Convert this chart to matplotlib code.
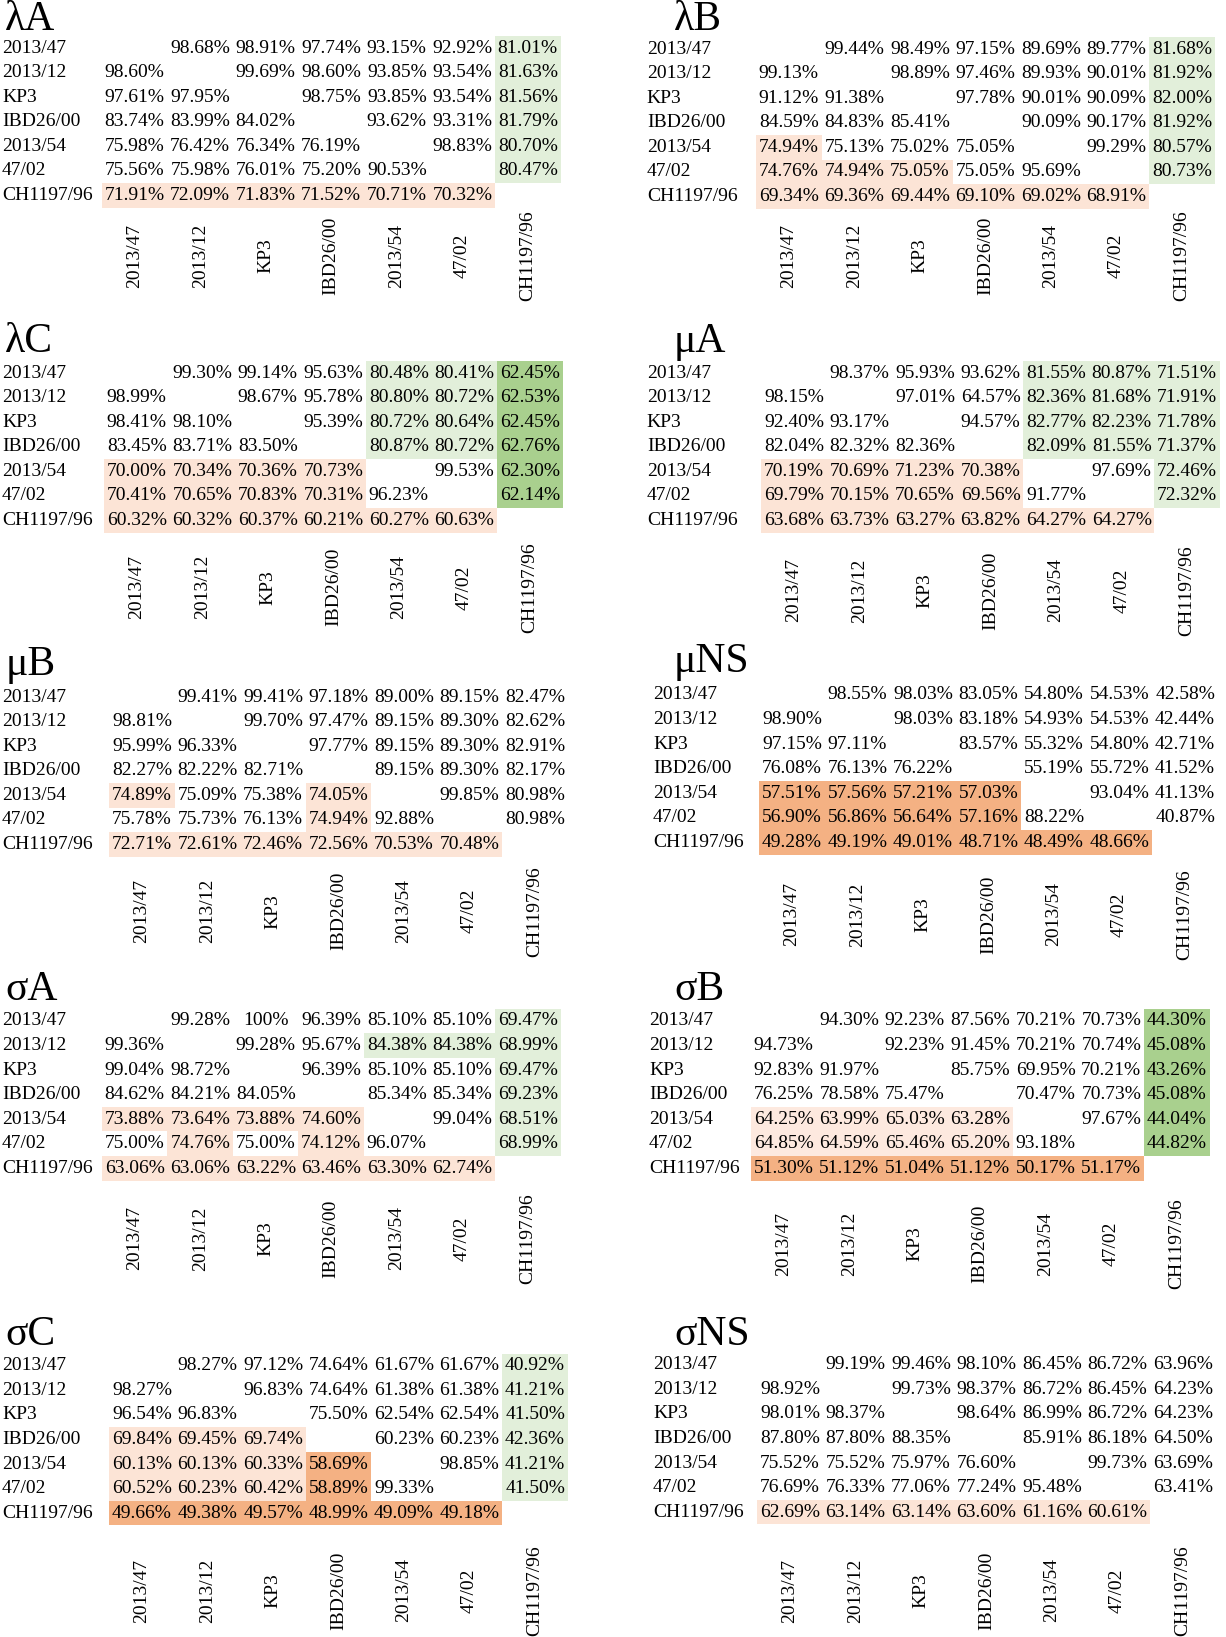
import numpy as np
import matplotlib
matplotlib.use("Agg")
import matplotlib.pyplot as plt
from matplotlib.patches import Rectangle
from matplotlib.transforms import blended_transform_factory

plt.rcParams['font.family'] = ['Liberation Serif', 'DejaVu Serif']

strains = ["2013/47", "2013/12", "KP3", "IBD26/00", "2013/54", "47/02", "CH1197/96"]
N = np.nan

lambdaA = [[N, 98.68, 98.91, 97.74, 93.15, 92.92, 81.01],
           [98.60, N, 99.69, 98.60, 93.85, 93.54, 81.63],
           [97.61, 97.95, N, 98.75, 93.85, 93.54, 81.56],
           [83.74, 83.99, 84.02, N, 93.62, 93.31, 81.79],
           [75.98, 76.42, 76.34, 76.19, N, 98.83, 80.70],
           [75.56, 75.98, 76.01, 75.20, 90.53, N, 80.47],
           [71.91, 72.09, 71.83, 71.52, 70.71, 70.32, N]]
lambdaA_hl = ["......G", "......G", "......G", "......G", "......G", "......G", "SSSSSS."]

lambdaB = [[N, 99.44, 98.49, 97.15, 89.69, 89.77, 81.68],
           [99.13, N, 98.89, 97.46, 89.93, 90.01, 81.92],
           [91.12, 91.38, N, 97.78, 90.01, 90.09, 82.00],
           [84.59, 84.83, 85.41, N, 90.09, 90.17, 81.92],
           [74.94, 75.13, 75.02, 75.05, N, 99.29, 80.57],
           [74.76, 74.94, 75.05, 75.05, 95.69, N, 80.73],
           [69.34, 69.36, 69.44, 69.10, 69.02, 68.91, N]]
lambdaB_hl = ["......G", "......G", "......G", "......G", "S.....G", "SSS...G", "SSSSSS."]

lambdaC = [[N, 99.30, 99.14, 95.63, 80.48, 80.41, 62.45],
           [98.99, N, 98.67, 95.78, 80.80, 80.72, 62.53],
           [98.41, 98.10, N, 95.39, 80.72, 80.64, 62.45],
           [83.45, 83.71, 83.50, N, 80.87, 80.72, 62.76],
           [70.00, 70.34, 70.36, 70.73, N, 99.53, 62.30],
           [70.41, 70.65, 70.83, 70.31, 96.23, N, 62.14],
           [60.32, 60.32, 60.37, 60.21, 60.27, 60.63, N]]
lambdaC_hl = ["....GGD", "....GGD", "....GGD", "....GGD", "SSSS..D", "SSSS..D", "SSSSSS."]

muA = [[N, 98.37, 95.93, 93.62, 81.55, 80.87, 71.51],
       [98.15, N, 97.01, 64.57, 82.36, 81.68, 71.91],
       [92.40, 93.17, N, 94.57, 82.77, 82.23, 71.78],
       [82.04, 82.32, 82.36, N, 82.09, 81.55, 71.37],
       [70.19, 70.69, 71.23, 70.38, N, 97.69, 72.46],
       [69.79, 70.15, 70.65, 69.56, 91.77, N, 72.32],
       [63.68, 63.73, 63.27, 63.82, 64.27, 64.27, N]]
muA_hl = ["....GGG", "....GGG", "....GGG", "....GGG", "SSSS..G", "SSSS..G", "SSSSSS."]

muB = [[N, 99.41, 99.41, 97.18, 89.00, 89.15, 82.47],
       [98.81, N, 99.70, 97.47, 89.15, 89.30, 82.62],
       [95.99, 96.33, N, 97.77, 89.15, 89.30, 82.91],
       [82.27, 82.22, 82.71, N, 89.15, 89.30, 82.17],
       [74.89, 75.09, 75.38, 74.05, N, 99.85, 80.98],
       [75.78, 75.73, 76.13, 74.94, 92.88, N, 80.98],
       [72.71, 72.61, 72.46, 72.56, 70.53, 70.48, N]]
muB_hl = [".......", ".......", ".......", ".......", "S..S...", "...S...", "SSSSSS."]

muNS = [[N, 98.55, 98.03, 83.05, 54.80, 54.53, 42.58],
        [98.90, N, 98.03, 83.18, 54.93, 54.53, 42.44],
        [97.15, 97.11, N, 83.57, 55.32, 54.80, 42.71],
        [76.08, 76.13, 76.22, N, 55.19, 55.72, 41.52],
        [57.51, 57.56, 57.21, 57.03, N, 93.04, 41.13],
        [56.90, 56.86, 56.64, 57.16, 88.22, N, 40.87],
        [49.28, 49.19, 49.01, 48.71, 48.49, 48.66, N]]
muNS_hl = [".......", ".......", ".......", ".......", "OOOO...", "OOOO...", "OOOOOO."]

sigmaA = [[N, 99.28, 100.0, 96.39, 85.10, 85.10, 69.47],
          [99.36, N, 99.28, 95.67, 84.38, 84.38, 68.99],
          [99.04, 98.72, N, 96.39, 85.10, 85.10, 69.47],
          [84.62, 84.21, 84.05, N, 85.34, 85.34, 69.23],
          [73.88, 73.64, 73.88, 74.60, N, 99.04, 68.51],
          [75.00, 74.76, 75.00, 74.12, 96.07, N, 68.99],
          [63.06, 63.06, 63.22, 63.46, 63.30, 62.74, N]]
sigmaA_hl = ["......G", "....GGG", "......G", "......G", "SSSS..G", ".S.S..G", "SSSSSS."]

sigmaB = [[N, 94.30, 92.23, 87.56, 70.21, 70.73, 44.30],
          [94.73, N, 92.23, 91.45, 70.21, 70.74, 45.08],
          [92.83, 91.97, N, 85.75, 69.95, 70.21, 43.26],
          [76.25, 78.58, 75.47, N, 70.47, 70.73, 45.08],
          [64.25, 63.99, 65.03, 63.28, N, 97.67, 44.04],
          [64.85, 64.59, 65.46, 65.20, 93.18, N, 44.82],
          [51.30, 51.12, 51.04, 51.12, 50.17, 51.17, N]]
sigmaB_hl = ["......D", "......D", "......D", "......D", "LLLL..D", "LLLL..D", "OOOOOO."]

sigmaC = [[N, 98.27, 97.12, 74.64, 61.67, 61.67, 40.92],
          [98.27, N, 96.83, 74.64, 61.38, 61.38, 41.21],
          [96.54, 96.83, N, 75.50, 62.54, 62.54, 41.50],
          [69.84, 69.45, 69.74, N, 60.23, 60.23, 42.36],
          [60.13, 60.13, 60.33, 58.69, N, 98.85, 41.21],
          [60.52, 60.23, 60.42, 58.89, 99.33, N, 41.50],
          [49.66, 49.38, 49.57, 48.99, 49.09, 49.18, N]]
sigmaC_hl = ["......G", "......G", "......G", "SSS...G", "SSSO..G", "SSSO..G", "OOOOOO."]

sigmaNS = [[N, 99.19, 99.46, 98.10, 86.45, 86.72, 63.96],
           [98.92, N, 99.73, 98.37, 86.72, 86.45, 64.23],
           [98.01, 98.37, N, 98.64, 86.99, 86.72, 64.23],
           [87.80, 87.80, 88.35, N, 85.91, 86.18, 64.50],
           [75.52, 75.52, 75.97, 76.60, N, 99.73, 63.69],
           [76.69, 76.33, 77.06, 77.24, 95.48, N, 63.41],
           [62.69, 63.14, 63.14, 63.60, 61.16, 60.61, N]]
sigmaNS_hl = [".......", ".......", ".......", ".......", ".......", ".......", "SSSSSS."]

panel_titles = ["λA", "λB", "λC", "μA", "μB", "μNS", "σA", "σB", "σC", "σNS"]
panel_values = [lambdaA, lambdaB, lambdaC, muA, muB, muNS, sigmaA, sigmaB, sigmaC, sigmaNS]
panel_highlights = [lambdaA_hl, lambdaB_hl, lambdaC_hl, muA_hl, muB_hl, muNS_hl,
                    sigmaA_hl, sigmaB_hl, sigmaC_hl, sigmaNS_hl]

# ---- layout (pixels, before global scaling) ----
W, H = 1226, 1637
SX, SY = 1.04, 1.045
CW, RH = 63.0 * SX, 23.5 * SY
# label_x, cell x0, first row centre y, title x, title baseline y, column label centre y
layout = [
    (2, 98, 46, 5, 29, 245),
    (622, 727, 47, 648, 29, 245),
    (2, 100, 357, 5, 337, 562),
    (622, 732, 357, 648, 337, 565),
    (2, 105, 667, 5, 646, 872),
    (628, 730, 665, 648, 643, 875),
    (2, 98, 977, 5, 957, 1185),
    (624, 722, 977, 648, 957, 1190),
    (2, 105, 1307, 5, 1287, 1522),
    (628, 728, 1306, 648, 1287, 1522),
]
hl_colors = {"G": "#e2efda", "D": "#a9d08e", "S": "#fce4d6", "L": "#fde9df", "O": "#f4b183"}
FS = 14
TFS = 30

fig = plt.figure(figsize=(W / 100, H / 100), dpi=100)
fig.patch.set_facecolor("white")

for title, vals, hl, lay in zip(panel_titles, panel_values, panel_highlights, layout):
    lx, x0, ry, tx, ty, cy = lay
    lx, x0, tx = lx * SX, x0 * SX, tx * SX
    ry, ty, cy = ry * SY, ty * SY, cy * SY
    top = ry - RH / 2
    n = len(strains)
    ax = fig.add_axes([x0 / W, 1 - (top + n * RH) / H, n * CW / W, n * RH / H])
    ax.set_xlim(0, n)
    ax.set_ylim(n, 0)
    ax.axis("off")
    arr = np.array(vals, dtype=float)
    for i in range(n):
        for j in range(n):
            c = hl[i][j]
            if c in hl_colors:
                ax.add_patch(Rectangle((j, i), 1, 1, facecolor=hl_colors[c], edgecolor="none"))
            v = arr[i, j]
            if not np.isnan(v):
                s = "100%" if v >= 100 else f"{v:.2f}%"
                ax.text(j + 0.5, i + 0.5, s, ha="center", va="center", fontsize=FS)
    tr = blended_transform_factory(ax.transAxes, ax.transData)
    for i, lab in enumerate(strains):
        ax.text((lx - x0) / (n * CW), i + 0.5, lab, ha="left", va="center",
                fontsize=FS, transform=tr, clip_on=False)
    ylab = (cy - top) / RH
    for j, lab in enumerate(strains):
        ax.text(j + 0.5, ylab, lab, rotation=90, ha="center", va="center",
                fontsize=FS, clip_on=False)
    fig.text(tx / W, 1 - ty / H, title, fontsize=TFS, ha="left", va="baseline")

fig.savefig("out.png", dpi=100, facecolor="white")
